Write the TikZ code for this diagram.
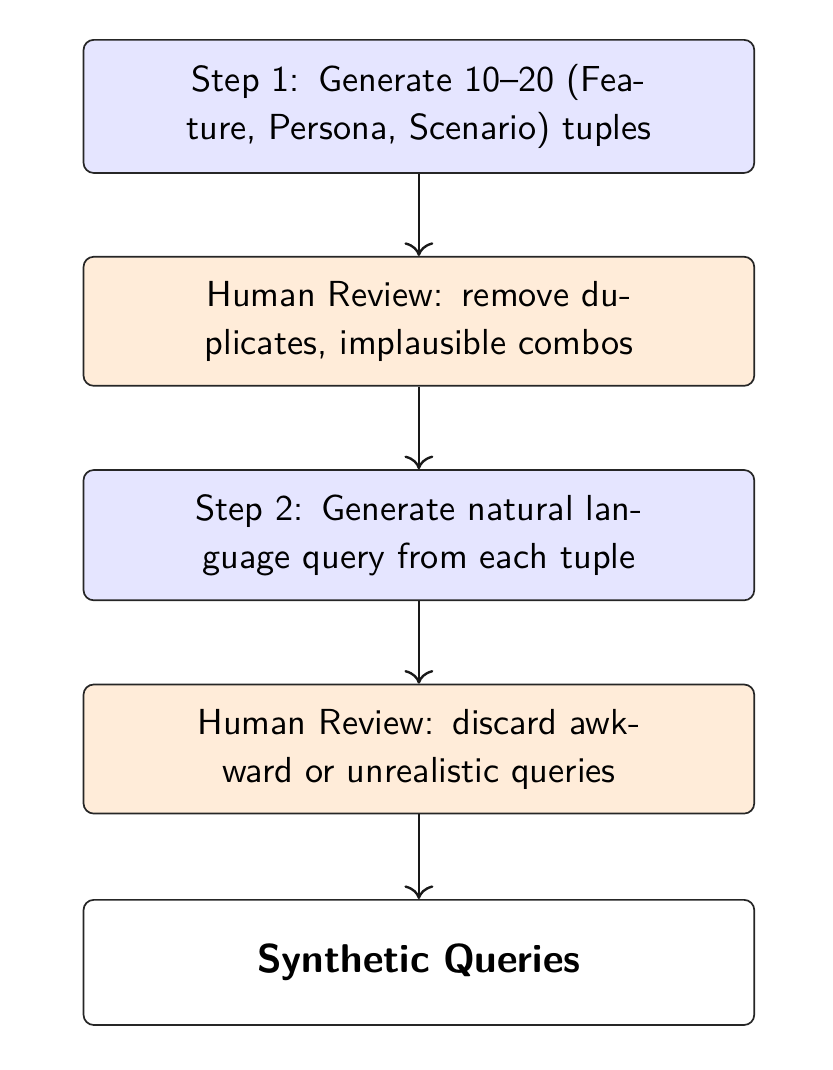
\documentclass[tikz,border=0pt]{standalone}
\usetikzlibrary{arrows.meta}
\begin{document}
\begin{tikzpicture}[
  stepbox/.style={draw=black!85, line width=0.5pt, rounded corners=3pt,
    text width=5cm, align=center, inner xsep=27.5pt, inner ysep=7.2pt,
    minimum height=36.8pt,
    font=\sffamily\fontsize{10.65}{14.1}\selectfont},
  genbox/.style={stepbox, fill=blue!10},
  revbox/.style={stepbox, fill=orange!15},
  outbox/.style={stepbox, fill=white, font=\sffamily\bfseries\fontsize{11.8}{14}\selectfont},
  flow/.style={-{To[length=4pt,width=8.5pt]}, line width=0.7pt, black!90}
]
\useasboundingbox (-123.2pt,31.3pt) rectangle (121.5pt,-283.4pt);
\node[genbox] (s1) at (0,0) {Step 1: Generate 10--20 (Fea-\\ture, Persona, Scenario) tuples};
\node[revbox] (r1) at (0,-63.2pt) {Human Review: remove du-\\plicates, implausible combos};
\node[genbox] (s2) at (0,-126.1pt) {Step 2: Generate natural lan-\\guage query from each tuple};
\node[revbox] (r2) at (0,-189.0pt) {Human Review: discard awk-\\ward or unrealistic queries};
\node[outbox] (out) at (0,-251.76pt) {Synthetic Queries};
\draw[flow] (s1) -- (r1);
\draw[flow] (r1) -- (s2);
\draw[flow] (s2) -- (r2);
\draw[flow] (r2) -- (out);
\end{tikzpicture}
\end{document}
